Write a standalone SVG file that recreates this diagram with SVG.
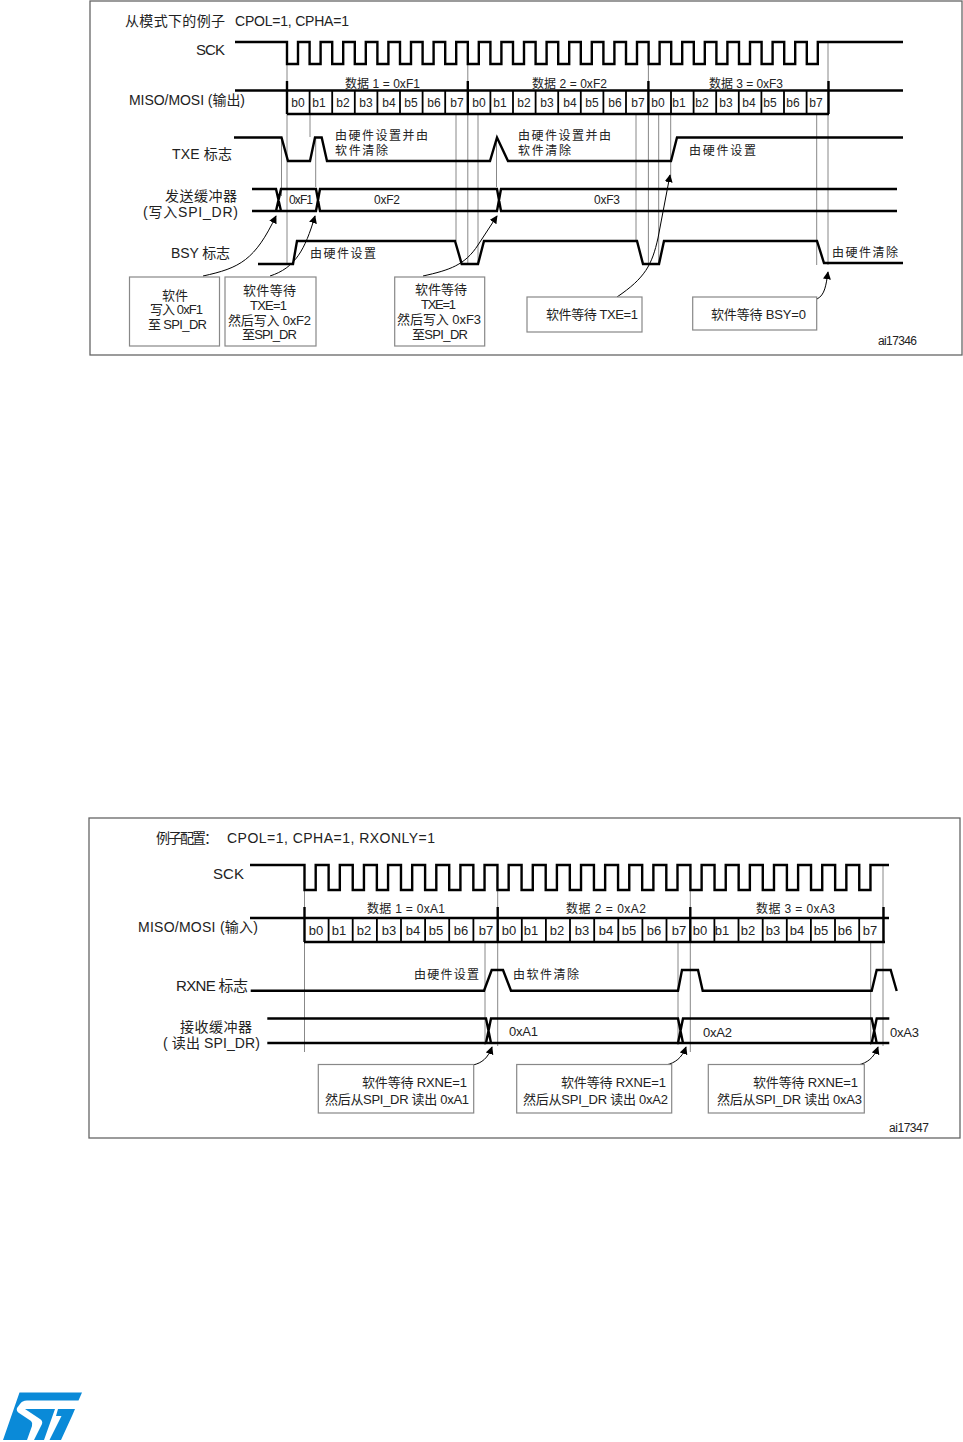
<svg xmlns="http://www.w3.org/2000/svg" width="963" height="1442" viewBox="0 0 963 1442">
<style>
text{font-family:"Liberation Sans","Noto Sans CJK SC",sans-serif;fill:#222;font-size:13px}
.s{font-size:12px}.m{font-size:14px}.l{font-size:15px}
.sig{fill:none;stroke:#000;stroke-width:2.4;stroke-linejoin:miter}
.bit{fill:none;stroke:#000;stroke-width:1.8}
.guide{fill:none;stroke:#888;stroke-width:1}
.frame{fill:#fff;stroke:#666;stroke-width:1.3}
.box{fill:#fff;stroke:#888;stroke-width:1.2}
.arr{fill:none;stroke:#000;stroke-width:1;marker-end:url(#ah)}
</style>
<defs><marker id="ah" viewBox="0 0 10 10" refX="9" refY="5" markerWidth="8" markerHeight="8" markerUnits="userSpaceOnUse" orient="auto"><path d="M0 0L10 5L0 10Z" fill="#000"/></marker></defs>
<rect width="963" height="1442" fill="#fff"/>

<g id="diagram-top">
<rect class="frame" x="90" y="1" width="872" height="354"/>
<g id="top-connectors">
<path class="guide" d="M287 64V265M467.8 64V265M648.4 64V265M828 42V265M310 114V137M281.5 137V196M315.7 137V187M456 114V241M478 114V265M496.5 137V187M636 114V241M658.7 114V265M670.7 114V180M816.7 114V265"/>
<path class="sig" d="M235 42H287V64
h11V42h11.6V64 h11V42h11.6V64 h11V42h11.6V64 h11V42h11.6V64
h11V42h11.6V64 h11V42h11.6V64 h11V42h11.6V64 h11V42h11.6V64
h11V42h11.6V64 h11V42h11.6V64 h11V42h11.6V64 h11V42h11.6V64
h11V42h11.6V64 h11V42h11.6V64 h11V42h11.6V64 h11V42h11.6V64
h11V42h11.6V64 h11V42h11.6V64 h11V42h11.6V64 h11V42h11.6V64
h11V42h11.6V64 h11V42h11.6V64 h11V42h11.6V64
h11V42H903"/>
<path class="sig" d="M235 90.500H903M287 114H829M287 81V114M467.800 81V114M648.400 81V114M828.500 81V114"/>
<path class="bit" d="M309.600 90V114M332.200 90V114M354.800 90V114M377.400 90V114M400 90V114M422.600 90V114M445.200 90V114M490.400 90V114M513 90V114M535.600 90V114M558.200 90V114M580.800 90V114M603.400 90V114M626 90V114M671 90V114M693.600 90V114M716.200 90V114M738.800 90V114M761.400 90V114M784 90V114M806.600 90V114"/>
<path class="sig" d="M234 137.500H281.500L288 161H310L315 137.500H321.700L327 161H490L497 137.500L508 161H671L677 137.500H903"/>
<path class="sig" d="M252 189H276L281 211H252M276 211L281 189H316L320 211H497L501 189H897M281 211H316L320 189H497L501 211H897"/>
<path class="sig" d="M258 264H293L297 241H455L461.700 264H478L484 241H637L643 264H659L664 241H817L824 263H903"/>
<path class="arr" d="M203 276C240 268 255 260 276 216"/>
<path class="arr" d="M270 276C295 268 305 250 315 216"/>
<path class="arr" d="M423 276C450 270 465 265 478 245L497 216"/>
<path class="arr" d="M617 297C645 278 652 265 658 238L670 175"/>
<path class="arr" d="M817 299C825 295 826 285 828 272"/>
</g>
<g id="top-labels">
<text class="m" x="125" y="26" textLength="100">从模式下的例子</text>
<text class="m" x="235" y="26" textLength="114">CPOL=1, CPHA=1</text>
<text class="l" x="196" y="55" textLength="29">SCK</text>
<text class="m" x="129" y="105" textLength="116">MISO/MOSI (输出)</text>
<text class="s" x="345" y="88" textLength="75">数据 1 = 0xF1</text>
<text class="s" x="532" y="88" textLength="75">数据 2 = 0xF2</text>
<text class="s" x="709" y="88" textLength="74">数据 3 = 0xF3</text>
<g class="bits">
<text class="s" x="298" y="107" text-anchor="middle">b0</text><text class="s" x="319" y="107" text-anchor="middle">b1</text><text class="s" x="343" y="107" text-anchor="middle">b2</text><text class="s" x="366" y="107" text-anchor="middle">b3</text><text class="s" x="389" y="107" text-anchor="middle">b4</text><text class="s" x="411" y="107" text-anchor="middle">b5</text><text class="s" x="434" y="107" text-anchor="middle">b6</text><text class="s" x="457" y="107" text-anchor="middle">b7</text>
<text class="s" x="479" y="107" text-anchor="middle">b0</text><text class="s" x="500" y="107" text-anchor="middle">b1</text><text class="s" x="524" y="107" text-anchor="middle">b2</text><text class="s" x="547" y="107" text-anchor="middle">b3</text><text class="s" x="570" y="107" text-anchor="middle">b4</text><text class="s" x="592" y="107" text-anchor="middle">b5</text><text class="s" x="615" y="107" text-anchor="middle">b6</text><text class="s" x="638" y="107" text-anchor="middle">b7</text>
<text class="s" x="658" y="107" text-anchor="middle">b0</text><text class="s" x="679" y="107" text-anchor="middle">b1</text><text class="s" x="702" y="107" text-anchor="middle">b2</text><text class="s" x="726" y="107" text-anchor="middle">b3</text><text class="s" x="749" y="107" text-anchor="middle">b4</text><text class="s" x="770" y="107" text-anchor="middle">b5</text><text class="s" x="793" y="107" text-anchor="middle">b6</text><text class="s" x="816" y="107" text-anchor="middle">b7</text>
</g>
<text class="s" x="335" y="140" textLength="93">由硬件设置并由</text>
<text class="s" x="335" y="155" textLength="53">软件清除</text>
<text class="s" x="518" y="140" textLength="93">由硬件设置并由</text>
<text class="s" x="518" y="155" textLength="53">软件清除</text>
<text class="s" x="689" y="155" textLength="67">由硬件设置</text>
<text class="m" x="172" y="159" textLength="60">TXE 标志</text>
<text class="m" x="165" y="201" textLength="72">发送缓冲器</text>
<text class="m" x="143" y="217" textLength="95">(写入SPI_DR)</text>
<text class="s" x="289" y="204" textLength="24">0xF1</text>
<text class="s" x="374" y="204" textLength="26">0xF2</text>
<text class="s" x="594" y="204" textLength="26">0xF3</text>
<text class="m" x="171" y="258" textLength="59">BSY 标志</text>
<text class="s" x="310" y="258" textLength="66">由硬件设置</text>
<text class="s" x="832" y="257" textLength="66">由硬件清除</text>
<text class="s" x="878" y="345" textLength="39">ai17346</text>
</g>
<g id="top-box-1"><rect class="box" x="129.500" y="277" width="90" height="69"/>
<text x="162" y="300" textLength="26">软件</text><text x="150" y="314" textLength="53">写入 0xF1</text><text x="148" y="329" textLength="59">至 SPI_DR</text></g>
<g id="top-box-2"><rect class="box" x="225" y="277" width="91" height="69"/>
<text x="243" y="295" textLength="53">软件等待</text><text x="250" y="310" textLength="37">TXE=1</text><text x="228" y="325" textLength="83">然后写入 0xF2</text><text x="242" y="339" textLength="55">至SPI_DR</text></g>
<g id="top-box-3"><rect class="box" x="394.700" y="277" width="90" height="69"/>
<text x="415" y="294" textLength="52">软件等待</text><text x="421" y="309" textLength="35">TXE=1</text><text x="397" y="324" textLength="84">然后写入 0xF3</text><text x="412" y="339" textLength="56">至SPI_DR</text></g>
<g id="top-box-4"><rect class="box" x="527" y="297" width="115" height="35"/>
<text x="546" y="319" textLength="92">软件等待 TXE=1</text></g>
<g id="top-box-5"><rect class="box" x="692.700" y="297" width="124" height="33"/>
<text x="711" y="319" textLength="95">软件等待 BSY=0</text></g>
</g>

<g id="diagram-bottom">
<rect class="frame" x="89" y="818" width="871" height="320"/>
<g id="bottom-connectors">
<path class="guide" d="M304.500 890V1052M497.700 890V1046M690.300 890V1052M883 865V1046M485 942V1045M678 942V1045M870.700 942V1045"/>
<path class="sig" d="M250 865H304.500V890
h11.2V865h12.92V890 h11.2V865h12.92V890 h11.2V865h12.92V890 h11.2V865h12.92V890
h11.2V865h12.92V890 h11.2V865h12.92V890 h11.2V865h12.92V890 h11.2V865h12.92V890
h11.2V865h12.92V890 h11.2V865h12.92V890 h11.2V865h12.92V890 h11.2V865h12.92V890
h11.2V865h12.92V890 h11.2V865h12.92V890 h11.2V865h12.92V890 h11.2V865h12.92V890
h11.2V865h12.92V890 h11.2V865h12.92V890 h11.2V865h12.92V890 h11.2V865h12.92V890
h11.2V865h12.92V890 h11.2V865h12.92V890 h11.2V865h12.92V890
h11.2V865H889"/>
<path class="sig" d="M250 918H889M304 942H885M304.500 907V942M497.700 907V942M690.300 907V942M883.500 907V942"/>
<path class="bit" d="M328.600 918V942M352.700 918V942M376.900 918V942M401 918V942M425.100 918V942M449.200 918V942M473.400 918V942M521.800 918V942M545.900 918V942M570 918V942M594.200 918V942M618.300 918V942M642.400 918V942M666.500 918V942M714.400 918V942M738.500 918V942M762.700 918V942M786.800 918V942M810.900 918V942M835 918V942M859.200 918V942"/>
<path class="sig" d="M250.700 990.700H484L491.700 970H503L511 990.700H678L682 970H698L702.700 990.700H871.700L876.700 970H890.700L896.700 991"/>
<path class="sig" d="M267.300 1018.500H486L491 1043H267.300M486 1043L491 1018.500H678L683 1043H491M678 1043L683 1018.500H871.700L876.700 1043H683M871.700 1043L876.700 1018.500H889.300M876.700 1043H889.300"/>
<path class="arr" d="M473 1065C482 1063 488 1058 492 1047"/>
<path class="arr" d="M666 1065C675 1063 682 1058 686 1047"/>
<path class="arr" d="M858 1065C867 1063 874 1058 878 1047"/>
</g>
<g id="bottom-labels">
<text class="m" x="156" y="843" textLength="62">例子配置：</text>
<text class="m" x="227" y="843" textLength="208">CPOL=1, CPHA=1, RXONLY=1</text>
<text class="l" x="213" y="879" textLength="31">SCK</text>
<text class="m" x="138" y="932" textLength="120">MISO/MOSI (输入)</text>
<text class="s" x="367" y="913" textLength="78">数据 1 = 0xA1</text>
<text class="s" x="566" y="913" textLength="80">数据 2 = 0xA2</text>
<text class="s" x="756" y="913" textLength="79">数据 3 = 0xA3</text>
<g class="bits">
<text x="316" y="935" text-anchor="middle">b0</text><text x="339" y="935" text-anchor="middle">b1</text><text x="364" y="935" text-anchor="middle">b2</text><text x="389" y="935" text-anchor="middle">b3</text><text x="413" y="935" text-anchor="middle">b4</text><text x="436" y="935" text-anchor="middle">b5</text><text x="461" y="935" text-anchor="middle">b6</text><text x="486" y="935" text-anchor="middle">b7</text>
<text x="509" y="935" text-anchor="middle">b0</text><text x="531" y="935" text-anchor="middle">b1</text><text x="557" y="935" text-anchor="middle">b2</text><text x="582" y="935" text-anchor="middle">b3</text><text x="606" y="935" text-anchor="middle">b4</text><text x="629" y="935" text-anchor="middle">b5</text><text x="654" y="935" text-anchor="middle">b6</text><text x="679" y="935" text-anchor="middle">b7</text>
<text x="700" y="935" text-anchor="middle">b0</text><text x="722" y="935" text-anchor="middle">b1</text><text x="748" y="935" text-anchor="middle">b2</text><text x="773" y="935" text-anchor="middle">b3</text><text x="797" y="935" text-anchor="middle">b4</text><text x="821" y="935" text-anchor="middle">b5</text><text x="845" y="935" text-anchor="middle">b6</text><text x="870" y="935" text-anchor="middle">b7</text>
</g>
<text class="s" x="414" y="979" textLength="65">由硬件设置</text>
<text class="s" x="513" y="979" textLength="66">由软件清除</text>
<text class="l" x="176" y="991" textLength="72">RXNE 标志</text>
<text class="m" x="180" y="1032" textLength="72">接收缓冲器</text>
<text class="m" x="163" y="1048" textLength="97">( 读出 SPI_DR)</text>
<text x="509" y="1036" textLength="29">0xA1</text>
<text x="703" y="1037" textLength="29">0xA2</text>
<text x="890" y="1037" textLength="29">0xA3</text>
<text class="s" x="889" y="1132" textLength="40">ai17347</text>
</g>
<g id="bottom-box-1"><rect class="box" x="318.300" y="1064.500" width="155.400" height="48.500"/>
<text x="362" y="1087" textLength="105">软件等待 RXNE=1</text><text x="325" y="1104" textLength="144">然后从SPI_DR 读出 0xA1</text></g>
<g id="bottom-box-2"><rect class="box" x="516.700" y="1064.500" width="155" height="48.500"/>
<text x="561" y="1087" textLength="105">软件等待 RXNE=1</text><text x="523" y="1104" textLength="145">然后从SPI_DR 读出 0xA2</text></g>
<g id="bottom-box-3"><rect class="box" x="708.300" y="1064.500" width="156" height="48.500"/>
<text x="753" y="1087" textLength="105">软件等待 RXNE=1</text><text x="717" y="1104" textLength="145">然后从SPI_DR 读出 0xA3</text></g>
</g>

<g id="st-logo" fill="#0a8ad8">
<path d="M19.500 1392.500H82L78.500 1400.500H27Q22 1400.500 20 1404L17 1408Q16 1411 19 1413L31 1421Q33 1423 32 1426L27 1440H3Z"/>
<path d="M25 1409H55L44 1440H34L42 1424Q43 1421 40 1419Z"/>
<path d="M58 1409H75L72 1416L61 1440H49.500L61.500 1416H56Z"/>
</g>
</svg>
